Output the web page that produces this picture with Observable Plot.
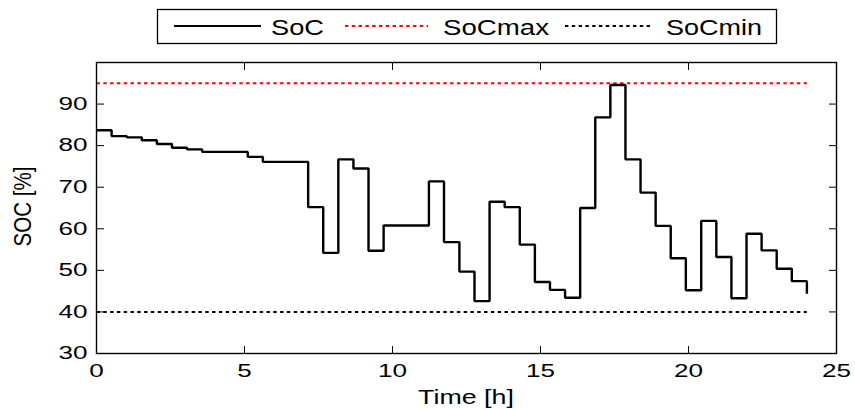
<!DOCTYPE html>
<html><head><meta charset="utf-8">
<script src="https://cdn.jsdelivr.net/npm/d3@7"></script>
<script src="https://cdn.jsdelivr.net/npm/@observablehq/plot@0.6"></script>
<style>
html,body{margin:0;padding:0;background:#fff;}
#wrap{position:relative;width:855px;height:410px;overflow:hidden;font-family:"Liberation Sans",Arial,sans-serif;}
#wrap svg{position:absolute;left:0;top:0;}
</style></head><body><div id="wrap"></div>
<script>
// Time stamps [h] of the SoC samples
const times = [0, 0.51, 1.02, 1.53, 2.04, 2.55, 3.06, 3.57, 4.09, 4.60, 5.11, 5.62, 6.13, 6.64, 7.15, 7.66,
  8.17, 8.68, 9.19, 9.70, 10.21, 10.72, 11.23, 11.74, 12.26, 12.77, 13.28, 13.79, 14.30, 14.81, 15.32, 15.83,
  16.34, 16.85, 17.36, 17.87, 18.38, 18.89, 19.40, 19.91, 20.43, 20.94, 21.45, 21.96, 22.47, 22.98, 23.49, 24.00];
// State of charge [%]
const soc = [83.7, 82.3, 82.0, 81.3, 80.4, 79.5, 79.1, 78.5, 78.5, 78.5, 77.3, 76.1, 76.1, 76.1, 65.2, 54.2,
  76.7, 74.5, 54.7, 60.8, 60.8, 60.8, 71.4, 56.8, 49.7, 42.6, 66.5, 65.2, 56.2, 47.2, 45.3, 43.4,
  65.0, 86.8, 94.6, 76.7, 68.7, 60.7, 52.9, 45.2, 61.9, 53.2, 43.3, 58.8, 54.8, 50.4, 47.4, 44.4];
const limitTimes = [0, 24];
const socMax = [95, 95];
const socMin = [40, 40];
const xTicks = [0, 5, 10, 15, 20, 25];
const yTicks = [30, 40, 50, 60, 70, 80, 90];
const legendLabels = ["SoC", "SoCmax", "SoCmin"];
const seriesColors = ["#000000", "#ff0000", "#000000"];
const xLabel = "Time [h]";
const yLabel = "SOC [%]";

const socData = times.map((t, i) => ({t, v: soc[i]}));
const maxData = limitTimes.map((t, i) => ({t, v: socMax[i]}));
const minData = limitTimes.map((t, i) => ({t, v: socMin[i]}));

const font = "Liberation Sans, Arial, sans-serif";
const chart = Plot.plot({
  width: 855, height: 410,
  marginLeft: 96, marginRight: 19, marginTop: 62, marginBottom: 57,
  style: {background: "transparent", fontFamily: font, fontSize: "18px", color: "#000", overflow: "visible"},
  x: {domain: [0, 25], label: null},
  y: {domain: [30, 100], label: null},
  marks: [
    Plot.line(maxData, {x: "t", y: "v", stroke: seriesColors[1], strokeWidth: 2, strokeDasharray: "3.4,3.4", strokeLinecap: "butt"}),
    Plot.line(minData, {x: "t", y: "v", stroke: seriesColors[2], strokeWidth: 2, strokeDasharray: "3.4,3.4", strokeLinecap: "butt"}),
    Plot.line(socData, {x: "t", y: "v", curve: "step-after", stroke: seriesColors[0], strokeWidth: 2.4, strokeLinejoin: "miter", strokeLinecap: "butt"}),
    Plot.frame({stroke: "#000", strokeWidth: 1.4}),
    Plot.axisX(xTicks, {anchor: "bottom", tickSize: -7, tickPadding: 18, label: null, fontSize: 18, stroke: "#000"}),
    Plot.axisX(xTicks, {anchor: "top", tickSize: -7, tickFormat: () => "", label: null}),
    Plot.axisY(yTicks, {anchor: "left", tickSize: -8, tickPadding: 17, label: null, fontSize: 18}),
    Plot.axisY(yTicks, {anchor: "right", tickSize: -8, tickFormat: () => "", label: null})
  ]
});
const wrap = document.getElementById("wrap");
wrap.appendChild(chart);

const svg = d3.select(chart);
const stretch = (sel, k) => sel.each(function () {
  const w = this.getBBox().width;
  if (w > 0) { this.setAttribute("textLength", (w * k).toFixed(1)); this.setAttribute("lengthAdjust", "spacingAndGlyphs"); }
});
stretch(svg.selectAll('g[aria-label="x-axis tick label"] text, g[aria-label="y-axis tick label"] text'), 1.45);

const xs = chart.scale("x"), ys = chart.scale("y");
const xMid = (xs.range[0] + xs.range[1]) / 2;
const yMid = (ys.range[0] + ys.range[1]) / 2;
svg.append("text").attr("x", xMid).attr("y", ys.range[0] + 51)
  .attr("text-anchor", "middle").attr("font-size", 20).attr("font-family", font).attr("fill", "#000")
  .text(xLabel).call(s => stretch(s, 1.34));
svg.append("text")
  .attr("transform", `translate(${xs.range[0] - 73},${yMid - 1}) rotate(-90) scale(1,1.25)`)
  .attr("text-anchor", "middle").attr("dy", "0.35em").attr("font-size", 19).attr("font-family", font).attr("fill", "#000")
  .attr("textLength", 80).attr("lengthAdjust", "spacingAndGlyphs")
  .text(yLabel);

// Legend
const leg = d3.select(wrap).append("svg").attr("width", 855).attr("height", 60);
leg.append("rect").attr("x", 157.5).attr("y", 9.5).attr("width", 619).attr("height", 34)
  .attr("fill", "#fff").attr("stroke", "#000").attr("stroke-width", 1.3);
const items = [
  {x1: 174, x2: 261, tx: 271, w: 53, dash: null, width: 2.2},
  {x1: 345, x2: 428, tx: 443, w: 106, dash: "3.4,3.4", width: 2},
  {x1: 565, x2: 650, tx: 666, w: 96, dash: "3.4,3.4", width: 2}
];
items.forEach((it, i) => {
  const ln = leg.append("line").attr("x1", it.x1).attr("x2", it.x2).attr("y1", 26).attr("y2", 26)
    .attr("stroke", seriesColors[i]).attr("stroke-width", it.width);
  if (it.dash) ln.attr("stroke-dasharray", it.dash);
  leg.append("text").attr("x", it.tx).attr("y", 34.5).attr("font-size", 22).attr("font-family", font)
    .attr("fill", "#000").attr("textLength", it.w).attr("lengthAdjust", "spacingAndGlyphs").text(legendLabels[i]);
});
</script></body></html>
